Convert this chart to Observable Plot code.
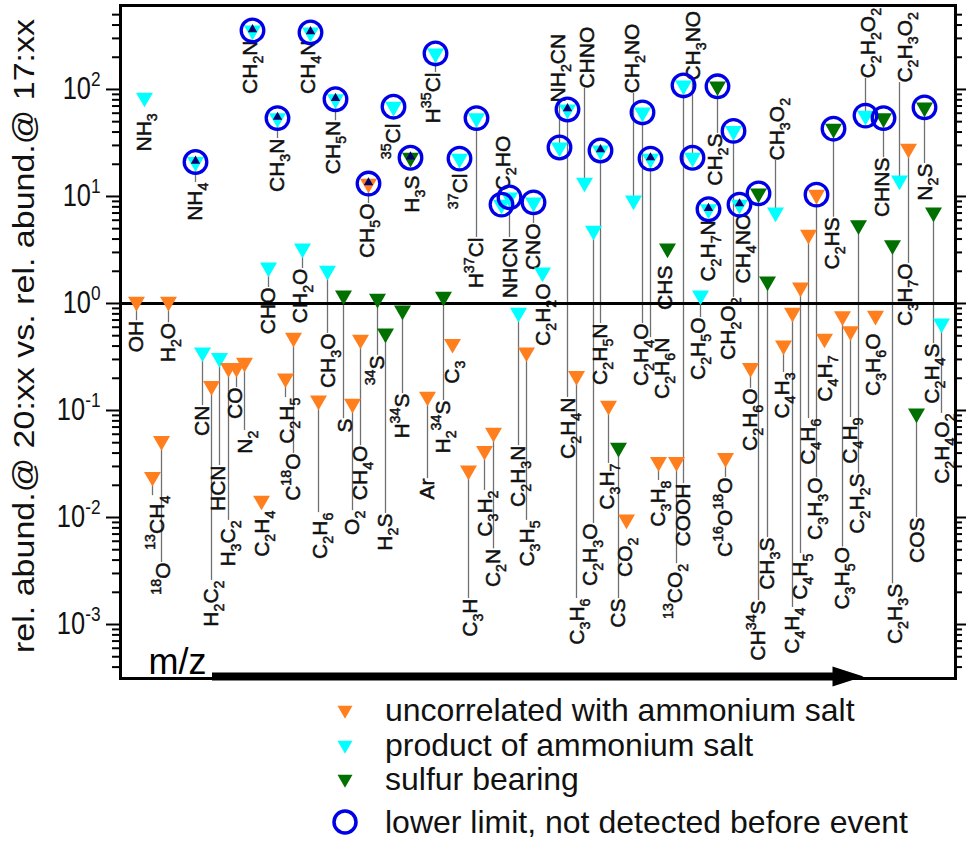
<!DOCTYPE html>
<html><head><meta charset="utf-8">
<script src="https://cdn.jsdelivr.net/npm/d3@7"></script>
<script src="https://cdn.jsdelivr.net/npm/@observablehq/plot@0.6"></script>
<style>
body{margin:0;background:#fff;font-family:"Liberation Sans",Arial,sans-serif;}
#chart{width:966px;}
svg{display:block;}
</style></head>
<body><div id="chart"></div>
<script>
// ---- data (m/z ordered species) ----
const formulas = ["OH","H_2O","^{13}CH_4","^{18}O","CN","HCN","H_2C_2","H_3C_2","CO","N_2","C_2H_4","NH_3","NH_4","CH_2N","CH_3N","CH_4N","CHO","CH_2O","CH_3O","C_2H_5","C^{18}O","C_2H_6","CH_5N","CH_5O","S","O_2","CH_4O","^{34}S","H_2S","H^{34}S","^{35}Cl","H_3S","H^{35}Cl","Ar","H_2^{34}S","C_3","^{37}Cl","H^{37}Cl","C_2HO","NHCN","CNO","C_2H_2O","C_3H","C_3H_2","C_2N","C_2H_3N","C_3H_5","NH_2CN","C_2H_4N","CHNO","C_2H_5N","C_2H_3O","C_3H_6","C_3H_7","CS","CO_2","CH_2NO","C_2H_4O","C_2H_6N","CHS","C_3H_8","^{13}CO_2","COOH","CH_3NO","C_2H_5O","C_2H_7N","CH_2S","CH_2O_2","CH_4NO","C^{16}O^{18}O","C_2H_6O","CH^{34}S","CH_3S","CH_3O_2","C_4H_3","C_4H_4","C_4H_5","C_4H_6","C_3H_3O","C_4H_7","C_2HS","C_3H_5O","C_4H_9","C_2H_2S","C_2H_2O_2","C_3H_6O","CHNS","C_2H_3S","C_2H_3O_2","C_3H_7O","COS","N_2S","C_2H_4S","C_2H_4O_2"];
// position along the m/z axis (arbitrary order units)
const mzOrder = [16,48,32,41,82,99,91,108,116,124,141,24,75,132,157,190,148,182,207,165,173,198,215,248,223,232,240,257,265,282,273,290,315,307,323,332,339,356,381,389,413,422,348,364,373,398,406,439,447,464,480,473,456,488,498,506,513,522,530,547,538,556,563,572,580,588,597,613,619,605,630,638,647,655,663,672,680,688,696,704,713,722,730,738,745,755,763,772,779,788,796,804,813,821];
// rel. abund.@20:xx vs rel. abund.@17:xx
const ratio = [1.04,1.04,0.024,0.052,0.35,0.31,0.17,0.25,0.25,0.28,0.0144,84,21,356,54,341,2.17,3.27,2.03,0.20,0.48,0.124,81,13.2,1.19,0.116,0.46,1.11,0.525,0.86,69,23,217,0.135,1.16,0.42,22.6,54,8.4,9.8,8.8,1.95,0.0275,0.042,0.062,0.82,0.35,28.7,65,13.5,26.9,4.8,0.21,0.111,0.045,0.0096,9.2,61,22.6,3.27,0.033,0.033,109,23,1.19,7.6,107,41,8.4,0.036,0.25,10.7,1.61,7.1,0.405,0.82,1.41,4.4,10.4,0.47,43,0.76,0.55,5.4,57,0.77,54,3.5,14.1,28,0.094,68,7.1,0.65];
// u = uncorrelated, p = product of ammonium salt, s = sulfur bearing
const group = ["u","u","u","u","p","p","u","u","u","u","u","p","p","p","p","p","p","p","p","u","u","u","p","u","s","u","u","s","s","s","p","s","p","u","s","u","p","p","p","p","p","p","u","u","u","p","u","p","p","p","p","p","u","u","s","u","p","p","p","s","u","u","p","p","p","p","s","p","p","u","u","s","s","p","u","u","u","u","u","u","s","u","u","s","p","u","s","s","p","u","s","s","s","p"];
const lowerLimit = ["NH_4","CH_2N","CH_3N","CH_4N","CH_5N","CH_5O","^{35}Cl","H_3S","H^{35}Cl","^{37}Cl","H^{37}Cl","C_2HO","NHCN","CNO","NH_2CN","C_2H_4N","C_2H_5N","C_2H_4O","C_2H_6N","COOH","CH_3NO","C_2H_7N","CH_2S","CH_2O_2","CH_4NO","CH^{34}S","C_3H_3O","C_2HS","C_2H_2O_2","CHNS","N_2S"];
const innerMark = ["NH_4","CH_2N","CH_3N","CH_4N","CH_5N","CH_5O","H_3S","C_2H_4N","C_2H_5N","C_2H_6N","C_2H_7N","CH_4NO"];
const labelAbove = ["C_2HO","NH_2CN","CHNO","CH_2NO","CH_3NO","CH_3O_2","C_2H_2O_2","C_2H_3O_2"];
// label anchor (value where the label begins) and label column
const labelAt = [0.69,0.66,0.016,0.0038,0.111,0.0306,0.00258,0.0094,0.164,0.065,0.0116,60,13.5,287,34.8,287,1.41,2.12,0.525,0.132,0.0397,0.0111,51,8.6,0.084,0.0116,0.047,0.327,0.0109,0.144,48,15.7,144,0.0231,0.124,0.293,16.4,4.14,11.4,4.14,5.6,1.54,0.00175,0.0179,0.0051,0.047,0.0094,75.6,0.132,102,0.65,0.0088,0.00175,0.032,0.00175,0.0065,92,0.65,0.48,2.26,0.0222,0.0037,0.0208,121,0.74,6.0,38.8,1.14,6.9,0.0237,0.161,0.00168,0.0065,21.7,0.227,0.00144,0.0046,0.084,0.0237,0.327,6.4,0.0053,0.086,0.0258,127,0.525,23.1,0.0024,116,2.37,0.01,20.3,0.423,0.094];
const labelOrder = [16,48,37,43,82,98,91,108,115,125,142,24,75,130,157,188,148,180,208,167,173,200,213,247,225,232,240,257,265,282,273,292,313,307,323,332,340,356,383,390,413,423,350,365,373,398,407,438,448,467,480,470,457,487,498,505,512,521,542,545,538,555,563,573,578,588,595,608,623,605,630,638,647,657,662,672,680,688,695,705,712,722,730,737,748,753,762,775,785,785,797,805,812,822];
const majorTicks = [1e-3,1e-2,1e-1,1,10,100];
const minorTicks = [4e-4,5e-4,6e-4,7e-4,8e-4,9e-4].concat(...[1e-3,1e-2,1e-1,1,10,100].map(b=>[2,3,4,5,6,7,8,9].map(k=>k*b).filter(v=>v<600)));
const yTitle = "rel. abund.@ 20:xx vs. rel. abund.@ 17:xx";
const legendKeys = ["u","p","s","limit"];
const legendLabels = ["uncorrelated with ammonium salt","product of ammonium salt","sulfur bearing","lower limit, not detected before event"];
const colors = {u:"#ff7f1e", p:"#00ffff", s:"#007000"};
const circleColor = "#0000e6";

const rows = formulas.map((f,i)=>({f, x: mzOrder[i], v: ratio[i], g: group[i],
  lim: lowerLimit.includes(f), inner: innerMark.includes(f),
  above: labelAbove.includes(f), ly: labelAt[i], lx: labelOrder[i]}));

const downTri = {draw(ctx,size){const s=Math.sqrt(size/(Math.sqrt(3)/4)),h=s*Math.sqrt(3)/2;ctx.moveTo(-s/2,-h/3);ctx.lineTo(s/2,-h/3);ctx.lineTo(0,2*h/3);ctx.closePath();}};
const rightHead = {draw(ctx){ctx.moveTo(-15,-10);ctx.lineTo(16,0);ctx.lineTo(-15,10);ctx.closePath();}};
const labelStyle = {rotate:-90, fontSize:21, fill:"#111", stroke:"#111", strokeWidth:0.5};

const svg = Plot.plot({
  width:966, height:690, marginTop:5, marginBottom:12, marginLeft:120, marginRight:11,
  style:{fontFamily:'"Liberation Sans", Arial, sans-serif', background:"#fff"},
  x:{domain:[0,835], axis:null},
  y:{type:"log", domain:[3.13e-4,609], axis:null},
  color:{domain:["u","p","s"], range:[colors.u,colors.p,colors.s]},
  marks:[
    Plot.axisY(majorTicks,{anchor:"left",tickSize:14,tickFormat:()=>"",strokeWidth:2}),
    Plot.axisY(minorTicks,{anchor:"left",tickSize:8,tickFormat:()=>"",strokeWidth:2}),
    Plot.axisY(majorTicks,{anchor:"right",tickSize:10,tickFormat:()=>"",strokeWidth:2}),
    Plot.axisY(minorTicks,{anchor:"right",tickSize:6,tickFormat:()=>"",strokeWidth:2}),
    Plot.text(majorTicks,{y:d=>d, frameAnchor:"left", dx:-20, textAnchor:"end", text:d=>"10^{"+Math.round(Math.log10(d))+"}", fontSize:31, fill:"#111"}),
    Plot.text([yTitle],{frameAnchor:"left", dx:-96, dy:-6, rotate:-90, textAnchor:"middle", fontSize:34, fill:"#111"}),
    Plot.ruleX(rows.filter(d=>Math.abs(Math.log10(d.v/d.ly))>0.17),{x:"x", y1:"v", y2:"ly", stroke:"#707070", strokeWidth:1.3}),
    Plot.text(rows.filter(d=>!d.above),{x:"lx", y:"ly", text:"f", textAnchor:"end", ...labelStyle}),
    Plot.text(rows.filter(d=>d.above),{x:"lx", y:"ly", text:"f", textAnchor:"start", ...labelStyle}),
    Plot.ruleY([1],{strokeWidth:3.2, stroke:"#000"}),
    Plot.frame({strokeWidth:3, stroke:"#000"}),
    Plot.text(["m/z"],{x:[28], y:[4.46e-4], textAnchor:"start", fontSize:36, fill:"#000"}),
    Plot.ruleY([3.27e-4],{x1:92, x2:715, strokeWidth:8, stroke:"#000"}),
    Plot.dot([3.27e-4],{x:[727], y:d=>d, symbol:rightHead, fill:"#000", r:5}),
    Plot.dot(rows,{x:"x", y:"v", symbol:downTri, r:6.3, fill:"g"}),
    Plot.dot(rows.filter(d=>d.lim),{x:"x", y:"v", r:11.3, stroke:circleColor, strokeWidth:3.3, fill:"none"}),
    Plot.dot(rows.filter(d=>d.inner),{x:"x", y:"v", dy:-1, symbol:"triangle", r:3.5, fill:"#00006e"})
  ]
});
document.getElementById("chart").appendChild(svg);

const NS = "http://www.w3.org/2000/svg";
function richify(el, size){
  const s = el.textContent; el.textContent = "";
  const re = /_(\d)|\^\{([^}]*)\}|([^_^]+)/g; let m, shift = 0;
  while ((m = re.exec(s))) {
    const t = document.createElementNS(NS,"tspan"); let target = 0;
    if (m[1]) { t.textContent = m[1]; t.setAttribute("font-size", size*0.68); target = size*0.27; }
    else if (m[2]) { t.textContent = m[2]; t.setAttribute("font-size", size*0.68); target = -size*0.42; }
    else { t.textContent = m[3]; }
    if (target - shift) t.setAttribute("dy", target - shift);
    shift = target; el.appendChild(t);
  }
}
function squeeze(el, sx, sy){
  let t = el.getAttribute("transform") || "";
  if (!t) { const x=+el.getAttribute("x")||0, y=+el.getAttribute("y")||0; el.removeAttribute("x"); el.removeAttribute("y"); t=`translate(${x},${y})`; }
  el.setAttribute("transform", t + ` scale(${sx},${sy})`);
}
svg.querySelectorAll("text").forEach(el=>{
  const s = el.textContent;
  if (s === yTitle) { squeeze(el,1,0.85); return; }
  if (/^10\^\{/.test(s)) { richify(el,31); squeeze(el,0.82,1); return; }
  if (formulas.includes(s)) richify(el,21);
});

// ---- legend below the plot ----
const leg = d3.select("#chart").append("svg").attr("width",966).attr("height",151);
const baselines = [31,66,100,143], markY = [20,55,89,132];
legendKeys.forEach((k,i)=>{
  if (k === "limit") {
    leg.append("circle").attr("cx",345).attr("cy",markY[i]).attr("r",11).attr("fill","none").attr("stroke",circleColor).attr("stroke-width",3.5);
  } else {
    const cx=345, cy=markY[i], s=15, h=s*Math.sqrt(3)/2;
    leg.append("path").attr("d",`M${cx-s/2},${cy-h/3}L${cx+s/2},${cy-h/3}L${cx},${cy+2*h/3}Z`).attr("fill",colors[k]);
  }
  leg.append("text").attr("x",385).attr("y",baselines[i]).attr("font-size",32).attr("fill","#111").text(legendLabels[i]);
});
</script></body></html>
